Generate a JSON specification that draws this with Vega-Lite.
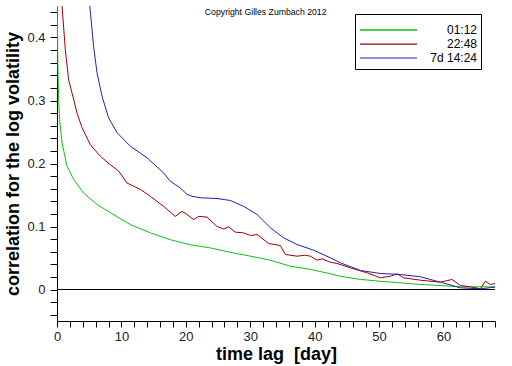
{
  "$schema": "https://vega.github.io/schema/vega-lite/v6.json",
  "width": 438,
  "height": 315,
  "autosize": {"type": "none"},
  "padding": {"left": 57, "top": 6, "right": 17, "bottom": 45},
  "background": "#ffffff",
  "config": {
    "view": {"stroke": null},
    "axis": {"grid": false, "domainColor": "#000000", "tickColor": "#000000", "labelFont": "Liberation Sans", "labelFontSize": 13, "labelColor": "#222222", "titleFont": "Liberation Sans", "titleFontSize": 18, "titleFontWeight": "bold", "titleColor": "#000000", "labelOverlap": false, "labelBound": false, "labelFlush": false, "tickCount": 200}
  },
  "datasets": {
    "curves": [
      {"s": "01:12", "x": 0.04, "y": 0.46},
      {"s": "01:12", "x": 0.12, "y": 0.365},
      {"s": "01:12", "x": 0.25, "y": 0.302},
      {"s": "01:12", "x": 0.40, "y": 0.270},
      {"s": "01:12", "x": 0.78, "y": 0.233},
      {"s": "01:12", "x": 1.55, "y": 0.196},
      {"s": "01:12", "x": 2.58, "y": 0.175},
      {"s": "01:12", "x": 4.13, "y": 0.153},
      {"s": "01:12", "x": 6.21, "y": 0.135},
      {"s": "01:12", "x": 8.28, "y": 0.122},
      {"s": "01:12", "x": 11.38, "y": 0.103},
      {"s": "01:12", "x": 14.49, "y": 0.090},
      {"s": "01:12", "x": 17.59, "y": 0.079},
      {"s": "01:12", "x": 20.70, "y": 0.071},
      {"s": "01:12", "x": 23.80, "y": 0.066},
      {"s": "01:12", "x": 26.91, "y": 0.059},
      {"s": "01:12", "x": 30.02, "y": 0.053},
      {"s": "01:12", "x": 33.12, "y": 0.0465},
      {"s": "01:12", "x": 36.23, "y": 0.037},
      {"s": "01:12", "x": 39.33, "y": 0.032},
      {"s": "01:12", "x": 42.44, "y": 0.025},
      {"s": "01:12", "x": 43.99, "y": 0.021},
      {"s": "01:12", "x": 47.10, "y": 0.016},
      {"s": "01:12", "x": 50.2, "y": 0.013},
      {"s": "01:12", "x": 53.31, "y": 0.0106},
      {"s": "01:12", "x": 56.41, "y": 0.008},
      {"s": "01:12", "x": 59.52, "y": 0.0063},
      {"s": "01:12", "x": 62.62, "y": 0.0043},
      {"s": "01:12", "x": 65.73, "y": 0.0043},
      {"s": "01:12", "x": 68.06, "y": 0.0043},
      {"s": "22:48", "x": 0.71, "y": 0.46},
      {"s": "22:48", "x": 1.29, "y": 0.381},
      {"s": "22:48", "x": 1.80, "y": 0.333},
      {"s": "22:48", "x": 2.58, "y": 0.302},
      {"s": "22:48", "x": 3.11, "y": 0.280},
      {"s": "22:48", "x": 3.88, "y": 0.257},
      {"s": "22:48", "x": 5.17, "y": 0.230},
      {"s": "22:48", "x": 6.72, "y": 0.2116},
      {"s": "22:48", "x": 8.28, "y": 0.198},
      {"s": "22:48", "x": 9.57, "y": 0.188},
      {"s": "22:48", "x": 10.87, "y": 0.169},
      {"s": "22:48", "x": 12.94, "y": 0.159},
      {"s": "22:48", "x": 14.49, "y": 0.148},
      {"s": "22:48", "x": 16.55, "y": 0.132},
      {"s": "22:48", "x": 18.37, "y": 0.116},
      {"s": "22:48", "x": 19.41, "y": 0.124},
      {"s": "22:48", "x": 20.19, "y": 0.119},
      {"s": "22:48", "x": 21.21, "y": 0.111},
      {"s": "22:48", "x": 21.99, "y": 0.116},
      {"s": "22:48", "x": 23.29, "y": 0.115},
      {"s": "22:48", "x": 24.84, "y": 0.100},
      {"s": "22:48", "x": 25.87, "y": 0.096},
      {"s": "22:48", "x": 26.65, "y": 0.0995},
      {"s": "22:48", "x": 27.69, "y": 0.091},
      {"s": "22:48", "x": 28.98, "y": 0.090},
      {"s": "22:48", "x": 30.02, "y": 0.0857},
      {"s": "22:48", "x": 31.06, "y": 0.0873},
      {"s": "22:48", "x": 32.86, "y": 0.073},
      {"s": "22:48", "x": 34.67, "y": 0.0698},
      {"s": "22:48", "x": 35.45, "y": 0.0556},
      {"s": "22:48", "x": 37.27, "y": 0.0529},
      {"s": "22:48", "x": 38.56, "y": 0.0544},
      {"s": "22:48", "x": 39.33, "y": 0.0529},
      {"s": "22:48", "x": 40.37, "y": 0.0465},
      {"s": "22:48", "x": 41.15, "y": 0.0487},
      {"s": "22:48", "x": 42.44, "y": 0.0433},
      {"s": "22:48", "x": 43.48, "y": 0.0413},
      {"s": "22:48", "x": 45.54, "y": 0.0344},
      {"s": "22:48", "x": 48.14, "y": 0.0265},
      {"s": "22:48", "x": 50.20, "y": 0.0186},
      {"s": "22:48", "x": 51.75, "y": 0.0211},
      {"s": "22:48", "x": 52.80, "y": 0.0249},
      {"s": "22:48", "x": 53.82, "y": 0.0186},
      {"s": "22:48", "x": 56.41, "y": 0.0148},
      {"s": "22:48", "x": 59.52, "y": 0.0116},
      {"s": "22:48", "x": 61.34, "y": 0.0159},
      {"s": "22:48", "x": 62.62, "y": 0.0063},
      {"s": "22:48", "x": 64.18, "y": 0.0043},
      {"s": "22:48", "x": 65.73, "y": 0.0011},
      {"s": "22:48", "x": 66.5, "y": 0.0132},
      {"s": "22:48", "x": 67.28, "y": 0.0079},
      {"s": "22:48", "x": 68.06, "y": 0.0095},
      {"s": "7d 14:24", "x": 5.0, "y": 0.46},
      {"s": "7d 14:24", "x": 5.68, "y": 0.386},
      {"s": "7d 14:24", "x": 6.21, "y": 0.344},
      {"s": "7d 14:24", "x": 6.99, "y": 0.307},
      {"s": "7d 14:24", "x": 8.01, "y": 0.2725},
      {"s": "7d 14:24", "x": 9.32, "y": 0.249},
      {"s": "7d 14:24", "x": 11.38, "y": 0.2275},
      {"s": "7d 14:24", "x": 13.98, "y": 0.209},
      {"s": "7d 14:24", "x": 16.55, "y": 0.185},
      {"s": "7d 14:24", "x": 17.59, "y": 0.172},
      {"s": "7d 14:24", "x": 19.15, "y": 0.161},
      {"s": "7d 14:24", "x": 20.19, "y": 0.151},
      {"s": "7d 14:24", "x": 20.96, "y": 0.148},
      {"s": "7d 14:24", "x": 22.25, "y": 0.1456},
      {"s": "7d 14:24", "x": 24.84, "y": 0.1444},
      {"s": "7d 14:24", "x": 26.91, "y": 0.1413},
      {"s": "7d 14:24", "x": 28.98, "y": 0.132},
      {"s": "7d 14:24", "x": 31.06, "y": 0.119},
      {"s": "7d 14:24", "x": 33.12, "y": 0.098},
      {"s": "7d 14:24", "x": 35.19, "y": 0.082},
      {"s": "7d 14:24", "x": 37.27, "y": 0.0714},
      {"s": "7d 14:24", "x": 39.84, "y": 0.0624},
      {"s": "7d 14:24", "x": 42.44, "y": 0.0503},
      {"s": "7d 14:24", "x": 43.99, "y": 0.0424},
      {"s": "7d 14:24", "x": 47.10, "y": 0.0302},
      {"s": "7d 14:24", "x": 50.20, "y": 0.0254},
      {"s": "7d 14:24", "x": 53.31, "y": 0.0238},
      {"s": "7d 14:24", "x": 56.41, "y": 0.0202},
      {"s": "7d 14:24", "x": 59.52, "y": 0.0116},
      {"s": "7d 14:24", "x": 62.62, "y": 0.0027},
      {"s": "7d 14:24", "x": 65.73, "y": 0.0011},
      {"s": "7d 14:24", "x": 68.06, "y": 0.0037}
    ],
    "zero": [{"y": 0}],
    "note": [{"text": "Copyright Gilles Zumbach 2012"}]
  },
  "layer": [
    {
      "data": {"name": "zero"},
      "mark": {"type": "rule", "color": "#000000", "strokeWidth": 1},
      "encoding": {
        "y": {"field": "y", "type": "quantitative"}
      }
    },
    {
      "data": {"name": "note"},
      "mark": {"type": "text", "font": "Liberation Sans", "fontSize": 8.7, "color": "#000000", "align": "center", "baseline": "alphabetic"},
      "encoding": {
        "x": {"datum": 32.4, "type": "quantitative"},
        "y": {"datum": 0.4357, "type": "quantitative"},
        "text": {"field": "text"}
      }
    },
    {
      "data": {"name": "curves"},
      "mark": {"type": "line", "strokeWidth": 1, "clip": true},
      "encoding": {
        "x": {"field": "x", "type": "quantitative", "scale": {"domain": [0, 68], "nice": false, "zero": false},
          "axis": {
            "title": "time lag\u00a0 [day]",
            "values": [0, 2, 4, 6, 8, 10, 12, 14, 16, 18, 20, 22, 24, 26, 28, 30, 32, 34, 36, 38, 40, 42, 44, 46, 48, 50, 52, 54, 56, 58, 60, 62, 64, 66, 68],
            "tickCount": 200,
            "labelExpr": "datum.value % 10 === 0 ? format(datum.value, 'd') : ''",
            "tickSize": 6,
            "encode": {"ticks": {"update": {"y2": {"signal": "datum.value % 10 === 0 ? 6 : 4"}}}},
            "labelPadding": 3,
            "titlePadding": 2
          }
        },
        "y": {"field": "y", "type": "quantitative", "scale": {"domain": [-0.05, 0.45], "nice": false, "zero": false},
          "axis": {
            "title": "correlation for the log volatility",
            "values": [-0.04, -0.02, 0, 0.02, 0.04, 0.06, 0.08, 0.1, 0.12, 0.14, 0.16, 0.18, 0.2, 0.22, 0.24, 0.26, 0.28, 0.3, 0.32, 0.34, 0.36, 0.38, 0.4, 0.42, 0.44],
            "tickCount": 200,
            "labelExpr": "abs(round(datum.value*100)) % 10 === 0 ? format(datum.value, '~g') : ''",
            "tickSize": 7,
            "encode": {"ticks": {"update": {"x2": {"signal": "abs(round(datum.value*100)) % 10 === 0 ? -7 : -4"}}}},
            "labelPadding": 5,
            "titlePadding": 4
          }
        },
        "strokeWidth": {"field": "s", "type": "nominal", "scale": {"domain": ["01:12", "22:48", "7d 14:24"], "range": [1.4, 1.1, 1]}, "legend": null},
        "color": {"field": "s", "type": "nominal",
          "scale": {"domain": ["01:12", "22:48", "7d 14:24"], "range": ["#10c010", "#a00000", "#2020b0"]},
          "legend": {"orient": "none", "legendX": 298, "legendY": 8, "title": "\u00a0", "titleFontSize": 5, "titlePadding": 0, "clipHeight": 14, "symbolType": "stroke", "symbolSize": 3249, "symbolStrokeWidth": 1, "labelAlign": "right", "labelOffset": 59, "labelFontSize": 12, "labelFont": "Liberation Sans", "labelColor": "#000000", "strokeColor": "#000000", "fillColor": "#ffffff", "padding": 4, "rowPadding": 0}
        }
      }
    }
  ]
}
